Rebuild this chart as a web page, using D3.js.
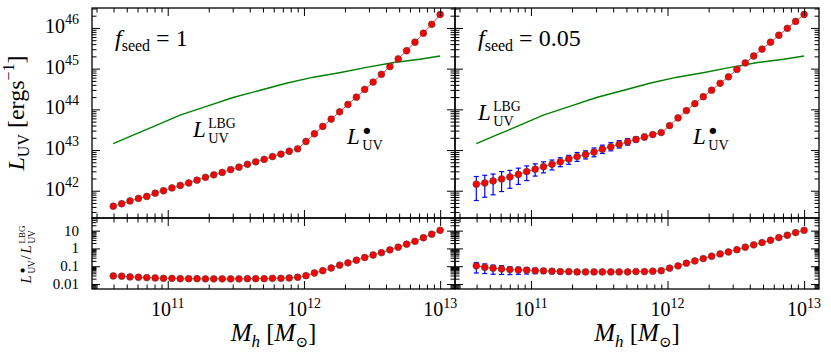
<!doctype html>
<html lang=en>
<head>
  <meta charset="utf-8">
  <title>L_UV vs M_h</title>
  <style>
body {
  margin: 0;
  background: white;
}
text {
  font-family: "Liberation Serif", "DejaVu Serif", serif;
  fill: black;
}
  </style>
</head>
<body>
<div id=content></div>

<script src="https://cdnjs.cloudflare.com/ajax/libs/d3/7.8.5/d3.min.js"></script>
<script>

// halo mass grid, log10(Mh / Msun), shared by every red series
var logMh = [10.600, 10.662, 10.723, 10.785, 10.846, 10.908, 10.969, 11.031, 11.092, 11.154,
             11.215, 11.277, 11.338, 11.400, 11.462, 11.523, 11.585, 11.646, 11.708, 11.769,
             11.831, 11.892, 11.954, 12.015, 12.077, 12.138, 12.200, 12.262, 12.323, 12.385,
             12.446, 12.508, 12.569, 12.631, 12.692, 12.754, 12.815, 12.877, 12.938, 13.000];

// log10 L_UV [erg/s] of the BH, f_seed = 1
var logLbh1 = [41.62, 41.68, 41.75, 41.81, 41.86, 41.94, 42.00, 42.07, 42.13, 42.19,
               42.26, 42.33, 42.39, 42.45, 42.52, 42.58, 42.65, 42.71, 42.77, 42.84,
               42.90, 42.97, 43.03, 43.21, 43.40, 43.58, 43.76, 43.94, 44.12, 44.30,
               44.49, 44.67, 44.86, 45.05, 45.24, 45.44, 45.65, 45.87, 46.09, 46.33];

// log10 L_UV [erg/s] of the BH, f_seed = 0.05
var logLbh005 = [42.16, 42.19, 42.24, 42.29, 42.34, 42.40, 42.47, 42.53, 42.59, 42.65,
                 42.71, 42.78, 42.84, 42.89, 42.95, 43.02, 43.08, 43.14, 43.20, 43.26,
                 43.32, 43.38, 43.43, 43.60, 43.79, 43.97, 44.14, 44.31, 44.47, 44.64,
                 44.80, 44.98, 45.14, 45.31, 45.48, 45.65, 45.82, 45.99, 46.16, 46.33];

// error bars for f_seed = 0.05, in dex above / below the point
var errUp005 = [0.19, 0.19, 0.17, 0.18, 0.16, 0.155, 0.14, 0.13, 0.12, 0.105,
                0.10, 0.09, 0.10, 0.09, 0.10, 0.10, 0.10, 0.09, 0.08, 0.065,
                0.065, 0.03, 0.02, 0, 0, 0, 0, 0, 0, 0,
                0, 0, 0, 0, 0, 0, 0, 0, 0, 0];
var errDn005 = [0.40, 0.35, 0.34, 0.31, 0.28, 0.245, 0.22, 0.17, 0.15, 0.14,
                0.12, 0.13, 0.12, 0.11, 0.115, 0.105, 0.10, 0.09, 0.08, 0.065,
                0.065, 0.03, 0.02, 0, 0, 0, 0, 0, 0, 0,
                0, 0, 0, 0, 0, 0, 0, 0, 0, 0];

// LBG luminosity (green curve)
var logMhLBG = [10.60, 10.75, 10.92, 11.09, 11.29, 11.48, 11.68, 11.87, 12.07, 12.26, 12.46, 12.66, 12.85, 13.00];
var logLLBG  = [43.16, 43.37, 43.61, 43.86, 44.08, 44.29, 44.47, 44.64, 44.79, 44.90, 45.03, 45.15, 45.23, 45.31];

// log10 of L_bh / L_LBG
var logRatio1 = [-1.545, -1.56, -1.60, -1.62, -1.64, -1.66, -1.68, -1.68, -1.70, -1.70,
                 -1.70, -1.71, -1.71, -1.71, -1.71, -1.71, -1.70, -1.70, -1.70, -1.68,
                 -1.68, -1.66, -1.62, -1.53, -1.38, -1.25, -1.10, -0.94, -0.81, -0.66,
                 -0.51, -0.37, -0.24, -0.08, 0.07, 0.24, 0.40, 0.60, 0.80, 1.02];
var logRatio005 = [-0.98, -1.06, -1.11, -1.15, -1.19, -1.21, -1.22, -1.25, -1.26, -1.28,
                   -1.30, -1.30, -1.32, -1.32, -1.32, -1.32, -1.32, -1.32, -1.32, -1.30,
                   -1.30, -1.28, -1.25, -1.11, -0.98, -0.83, -0.70, -0.57, -0.44, -0.31,
                   -0.20, -0.07, 0.07, 0.20, 0.33, 0.46, 0.61, 0.74, 0.89, 1.02];

var seedLabels = ["1", "0.05"];
var xTickExp = [11, 12, 13];
var yTickExp = [42, 43, 44, 45, 46];
var ratioTickVals = [0.01, 0.1, 1, 10];
var ratioTickText = ["0.01", "0.1", "1", "10"];

var W = 831, H = 362;
var cols = [[92, 455], [455, 819]];
var topY = [8, 218], botY = [218, 289];

function p10(v) { return Math.pow(10, v); }

var svg = d3.select("#content").append("svg")
    .attr("width", W)
    .attr("height", H);

var yTop = d3.scaleLog().domain([p10(41.33), p10(46.49)]).range([topY[1], topY[0]]);
var yBot = d3.scaleLog().domain([p10(-2.28), p10(1.71)]).range([botY[1], botY[0]]);

// inward ticks on one edge, majors at the decades
function addTicks(g, make, scale, translate) {
  var all = scale.ticks();
  var major = all.filter(v => Math.abs(Math.log10(v) - Math.round(Math.log10(v))) < 1e-6);
  var minor = all.filter(v => major.indexOf(v) < 0);
  [[major, 8], [minor, 4.5]].forEach(function(p) {
    g.append("g")
      .attr("transform", translate)
      .call(make(scale).tickValues(p[0]).tickSize(-p[1]).tickSizeOuter(0).tickFormat(""))
      .call(a => a.select(".domain").remove());
  });
}

function frame(g, x0, x1, y0, y1, x, y) {
  addTicks(g, d3.axisTop, x, "translate(0," + y0 + ")");
  addTicks(g, d3.axisBottom, x, "translate(0," + y1 + ")");
  addTicks(g, d3.axisLeft, y, "translate(" + x0 + ",0)");
  addTicks(g, d3.axisRight, y, "translate(" + x1 + ",0)");
  g.append("rect")
    .attr("x", x0).attr("y", y0)
    .attr("width", x1 - x0).attr("height", y1 - y0)
    .attr("fill", "none")
    .attr("stroke", "black")
    .attr("stroke-width", 1.3);
}

// L with a stacked superscript / subscript
function lum(g, x, y, size, sup, sub) {
  g.append("text").attr("x", x).attr("y", y)
    .style("font-size", size + "px").style("font-style", "italic").text("L");
  var dx = x + size * 0.66;
  if (sup == "•") {
    g.append("text").attr("x", dx + size * 0.05).attr("y", y - size * 0.5)
      .style("font-family", "DejaVu Sans")
      .style("font-size", (size * 0.36) + "px").text("●");
  } else {
    g.append("text").attr("x", dx).attr("y", y - size * 0.4)
      .style("font-size", (size * 0.6) + "px").text(sup);
  }
  g.append("text").attr("x", dx).attr("y", y + size * 0.24)
    .style("font-size", (size * 0.62) + "px").text(sub);
}

function redSeries(g, x, y, vals, up, dn) {
  var pts = logMh.map((m, i) => ({m: p10(m), v: p10(vals[i]),
                                  hi: up ? p10(vals[i] + up[i]) : 0,
                                  lo: dn ? p10(vals[i] - dn[i]) : 0}));
  g.append("path")
    .attr("d", d3.line().x(d => x(d.m)).y(d => y(d.v))(pts))
    .attr("stroke", "#ff4040")
    .attr("stroke-width", 1)
    .attr("fill", "none");
  if (up) {
    var eb = pts.filter(d => d.hi > d.v);
    var e = g.append("g").attr("stroke", "#0000ff").attr("stroke-width", 1.2);
    e.selectAll(".bar").data(eb).join("line")
      .attr("x1", d => x(d.m)).attr("x2", d => x(d.m))
      .attr("y1", d => y(d.lo)).attr("y2", d => y(d.hi));
    e.selectAll(".capHi").data(eb).join("line").attr("class", "capHi")
      .attr("x1", d => x(d.m) - 2.5).attr("x2", d => x(d.m) + 2.5)
      .attr("y1", d => y(d.hi)).attr("y2", d => y(d.hi));
    e.selectAll(".capLo").data(eb).join("line").attr("class", "capLo")
      .attr("x1", d => x(d.m) - 2.5).attr("x2", d => x(d.m) + 2.5)
      .attr("y1", d => y(d.lo)).attr("y2", d => y(d.lo));
  }
  g.append("g").selectAll("circle").data(pts).join("circle")
    .attr("cx", d => x(d.m))
    .attr("cy", d => y(d.v))
    .attr("r", 3.4)
    .attr("fill", "#ff0000")
    .attr("stroke", "#444")
    .attr("stroke-width", 0.6);
}

cols.forEach(function(c, ci) {
  var x = d3.scaleLog().domain([p10(10.444), p10(13.109)]).range(c);
  var g = svg.append("g");
  var bh = ci == 0 ? logLbh1 : logLbh005;
  var ratio = ci == 0 ? logRatio1 : logRatio005;

  // top panel: green LBG curve, red BH curve
  g.append("path")
    .attr("d", d3.line().x(d => x(p10(d[0]))).y(d => yTop(p10(d[1])))(d3.zip(logMhLBG, logLLBG)))
    .attr("stroke", "green")
    .attr("stroke-width", 1.4)
    .attr("fill", "none");
  redSeries(g, x, yTop, bh, ci == 1 ? errUp005 : null, ci == 1 ? errDn005 : null);
  frame(g, c[0], c[1], topY[0], topY[1], x, yTop);

  // bottom panel: ratio
  redSeries(g, x, yBot, ratio, ci == 1 ? errUp005 : null, ci == 1 ? errDn005 : null);
  frame(g, c[0], c[1], botY[0], botY[1], x, yBot);

  // x tick labels
  xTickExp.forEach(function(e) {
    var t = g.append("text")
      .attr("x", x(p10(e)))
      .attr("y", 316)
      .attr("text-anchor", "middle")
      .style("font-size", "20px");
    t.append("tspan").text("10");
    t.append("tspan").attr("dy", -8).style("font-size", "14px").text(e);
  });

  // x axis title
  var xt = g.append("text")
    .attr("x", (c[0] + c[1]) / 2)
    .attr("y", 341)
    .attr("text-anchor", "middle")
    .style("font-size", "25px");
  xt.append("tspan").style("font-style", "italic").text("M");
  xt.append("tspan").attr("dy", 6).style("font-size", "17px").style("font-style", "italic").text("h");
  xt.append("tspan").attr("dy", -6).text(" [");
  xt.append("tspan").style("font-style", "italic").text("M");
  xt.append("tspan").attr("dy", 6).style("font-size", "15px").text("⊙");
  xt.append("tspan").attr("dy", -6).text("]");

  // f_seed label
  var ft = g.append("text")
    .attr("x", c[0] + 23)
    .attr("y", 46)
    .style("font-size", "24px");
  ft.append("tspan").style("font-style", "italic").text("f");
  ft.append("tspan").attr("dy", 5).style("font-size", "16px").text("seed");
  ft.append("tspan").attr("dy", -5).text(" = " + seedLabels[ci]);
});

// curve annotations
lum(svg, 193, 137, 23, "LBG", "UV");
lum(svg, 347, 144, 23, "•", "UV");
lum(svg, 478, 120, 23, "LBG", "UV");
lum(svg, 693, 144, 23, "•", "UV");

// y tick labels, left column only
yTickExp.forEach(function(e) {
  var t = svg.append("text")
    .attr("x", 79)
    .attr("y", yTop(p10(e)) + 5)
    .attr("text-anchor", "end")
    .style("font-size", "20px");
  t.append("tspan").text("10");
  t.append("tspan").attr("dy", -9).style("font-size", "14px").text(e);
});
ratioTickVals.forEach(function(v, i) {
  svg.append("text")
    .attr("x", 79)
    .attr("y", yBot(v) + 5)
    .attr("text-anchor", "end")
    .style("font-size", "15px")
    .text(ratioTickText[i]);
});

// y axis titles
var yt = svg.append("text")
  .attr("transform", "translate(24," + ((topY[0] + topY[1]) / 2) + ") rotate(-90)")
  .attr("text-anchor", "middle")
  .style("font-size", "24px");
yt.append("tspan").style("font-style", "italic").text("L");
yt.append("tspan").attr("dy", 5).style("font-size", "16px").text("UV");
yt.append("tspan").attr("dy", -5).text(" [ergs");
yt.append("tspan").attr("dy", -10).style("font-size", "16px").text("−1");
yt.append("tspan").attr("dy", 10).text("]");

var yr = svg.append("g")
  .attr("transform", "translate(31," + ((botY[0] + botY[1]) / 2) + ") rotate(-90)");
lum(yr, -30, 0, 15, "•", "UV");
yr.append("text").attr("x", -6).attr("y", 0).style("font-size", "15px").text("/");
lum(yr, 0, 0, 15, "LBG", "UV");

</script>
</body>
</html>
